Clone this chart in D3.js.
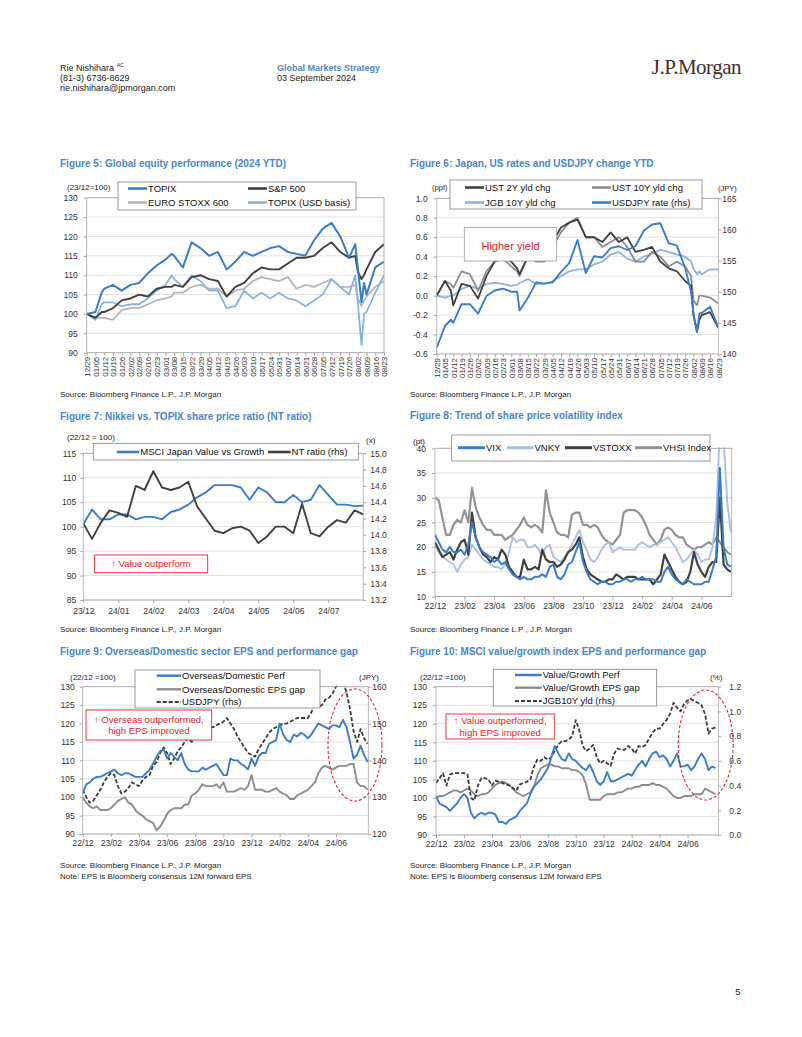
<!DOCTYPE html>
<html><head><meta charset="utf-8">
<script src="https://cdn.jsdelivr.net/npm/d3@7"></script>
<style>body{margin:0;background:#fff} svg{display:block}</style>
</head><body>
<script>
// ---------- DATA ----------
// Figures 5 & 6: 2024 YTD observation dates and weekly axis labels
const ytdDates = ["12/29","01/05","01/10","01/12","01/19","01/26","02/02","02/09","02/16","02/23",
 "03/01","03/06","03/08","03/15","03/22","03/29","04/05","04/12","04/19","04/26",
 "05/03","05/10","05/17","05/24","05/31","06/07","06/14","06/21","06/28","07/05",
 "07/12","07/19","07/26","07/31","08/02","08/05","08/07","08/09","08/16","08/23"];
const ytdLabels = ["12/29","01/05","01/12","01/19","01/26","02/02","02/09","02/16","02/23","03/01","03/08","03/15","03/22","03/29","04/05","04/12","04/19","04/26","05/03","05/10","05/17","05/24","05/31","06/07","06/14","06/21","06/28","07/05","07/12","07/19","07/26","08/02","08/09","08/16","08/23"];

const f5Topix = [100,100.5,105.5,106.5,107.5,106,107.5,108,110.5,112.5,114,115.5,115,112,118.5,117,115,116,111.5,113.5,116,115,116,117,117.5,116,115.5,115,119,122,123.5,120,114.5,118,112,103,108,105,112,113.5];
const f5Spx = [100,99,100.5,100.5,101.5,103.5,104,105,104.5,106.5,107,107,107.5,107,109.5,110,109,108.5,104.5,107,108,110.5,112,111.5,111.5,113,114.5,114.5,115,117,118.5,116,114.5,115,111,109,110,111.5,116,118];
const f5Stoxx = [100,99,99,99,98.5,101,101.5,101.5,102.5,103.5,104,104.5,105.5,105.5,107,107.5,106.5,106.5,104.5,106,106.5,108.5,109.5,109,108.5,109.5,106.5,107.5,107,108,109,107,107,107.5,104,102,103.5,104.5,107,108.5];
const f5TopixUsd = [100,98.5,102.5,103,103,102,102.5,102.5,104,106,107.5,110,109,107,110,108.5,106,106,101.5,102,106,104,105.5,104,105.5,104,103.5,102,103.5,105,109,107,105,110,103,92,100,100.5,105.5,110];

const f6Ust2y = [0,0.15,0.05,-0.1,0.12,0.1,-0.03,0.2,0.35,0.4,0.35,0.28,0.22,0.4,0.38,0.4,0.55,0.7,0.75,0.78,0.6,0.6,0.55,0.65,0.55,0.6,0.45,0.47,0.5,0.35,0.28,0.25,0.15,0.1,-0.2,-0.37,-0.25,-0.2,-0.17,-0.33];
const f6Ust10y = [0,0.15,0.12,0.08,0.25,0.22,0.05,0.25,0.35,0.38,0.3,0.25,0.2,0.4,0.35,0.35,0.5,0.65,0.75,0.8,0.6,0.6,0.5,0.55,0.6,0.5,0.35,0.35,0.45,0.4,0.3,0.35,0.3,0.2,-0.05,-0.1,0,0,-0.02,-0.08];
const f6Jgb10y = [0,-0.02,0,0,0.07,0.1,0.07,0.12,0.13,0.12,0.1,0.11,0.13,0.17,0.12,0.12,0.15,0.2,0.25,0.27,0.27,0.32,0.35,0.42,0.45,0.38,0.35,0.4,0.43,0.47,0.45,0.42,0.4,0.35,0.28,0.22,0.25,0.22,0.27,0.27];
const f6Usdjpy = [141,144.5,145.5,145,148,148,146.5,149.3,150.2,150.5,150,150,147,149,151.5,151.3,151.5,153.2,154.6,158.3,153,155.7,155.5,157,157.3,156.7,157.3,159.8,160.8,161,157.8,157.4,153.8,150,146.5,143.5,146.5,146.6,147.6,144.3];

// Figure 7: weekly observations (months since Dec-2023, quarter-month steps)
const f7Labels = ["23/12","24/01","24/02","24/03","24/04","24/05","24/06","24/07"];
const f7Value = [100.5,103.5,101.5,101.5,102.5,102.5,101.5,102,102,101.5,103,103.5,104.5,106,107,108.5,108.5,108.5,108,105.5,108,107,105,105,106.5,105,105.5,108.5,106.5,104.5,104.5,104.2,104.3];
const f7Nt = [14.14,13.95,14.15,14.3,14.27,14.22,14.6,14.55,14.78,14.58,14.55,14.58,14.65,14.35,14.2,14.05,14.02,14.08,14.1,14.05,13.9,13.98,14.1,14.1,14.02,14.38,14.02,13.98,14.1,14.18,14.15,14.3,14.25];

// Figures 8-10: weekly observations (months since Dec-2022, quarter-month steps)
const longLabels = ["22/12","23/02","23/04","23/06","23/08","23/10","23/12","24/02","24/04","24/06"];
const f8Vix = [22.5,21,19.5,19,20,19,19,19.5,18.5,20.5,25,22,20,19,18.5,18,17,17.5,16.5,17,15.5,14.5,14,13.5,14,13.5,13.5,14,14,14.5,14,16,16.5,14,13.5,14.5,16.5,17,19,21,17,15,13.5,13,12.5,13,13,12.5,12.5,13,13,13.5,13.5,13,13.5,13.5,14,13.5,13.5,13.5,13,13,15,16,14.5,13.5,13,12.5,13.5,13,12.5,12.5,12.5,13,13,15.5,18,36,20,16.5,16];
const f8Vnky = [20.5,19,18,17.5,17,16.5,15,16.5,17.5,18,20.5,19.5,18.5,17.5,17,16.5,16,16,15.5,16.5,19,22,21,21.5,21.5,20,20,20.5,19.5,18.5,20,20.5,18,17.5,17,18,19,20.5,22,23.5,21,19.5,17.5,17,18,19.5,20.5,21,19,19.5,20,19.5,19.5,19.5,19.5,20.5,21,20.5,20,20.5,20.5,21,21.5,22,21,20,18.5,17,17.5,18.5,19.5,18.5,17,17.5,17.5,20,26,44,42,29,23];
const f8Vstoxx = [21,19.5,18,18.5,19,17.5,19.5,21,21.5,18.5,27,22,20,18.5,18,17,18,17.5,19.5,18.5,16,15,14,14,17.5,15.5,15.5,16,15.5,19.5,17.5,17,17,16,16.5,17.5,19,19.5,20.5,22,18,15.5,14.5,14,13.5,13,13,13.5,13.5,14.5,14,13.5,14,14,14,13.5,13.5,13.5,13.5,12.5,13.5,14.5,18.5,17,15.5,14,13,12.5,13,15,19,16.5,15,14,16,17,17,30,16.5,15.5,15];
const f8Vhsi = [30,29.5,26,22.5,22.5,24.5,25.5,25,27.5,25,32,28,26,24.5,23.5,23.5,22.5,22.5,22.5,21.5,22,22.5,23.5,24.5,26,24.5,24,24.5,24,23,31.5,27,25,23,22.5,22.5,22,26.5,27,27,24.5,24.5,24,24.5,24,22.5,21.5,21,20.5,21.5,22.5,27,27.5,27.5,27.5,27,26,24.5,22.5,21.5,20.5,21.5,23.5,24,23.5,22.5,22,22,20.5,20,19.5,20,20,20.5,21,20.5,22,21,20,19,18.5];

const f9Perf = [101,103.5,104,105,105.5,105.5,106,106.5,107,107.5,106.5,106,106.5,106.5,106,105.5,105.5,105.5,106.5,107.5,109,111,112.5,113,110.5,112,111,110,112,109,107.5,107,107,107,108,107.5,108,108.5,109,107.5,106,106,110.5,110,110,109,108.5,107.5,110.5,108.5,111,112,112,114.5,115,115.5,120,117,115.5,115,117,116.5,117.5,117,116,117,118.5,120,119.5,119,118.5,119.5,119.5,119,121,119,115,110.5,111.5,114,111.5,109.5];
const f9Eps = [100,98.5,97.5,97,97.5,96.5,96.5,96.5,97,98,99,99.5,100,98.5,98,96.5,95.5,95,94,93.5,93,91,92,93.5,95.5,96.5,97,97,97,98,98,100.5,101,102,103.5,103,103,103,103.5,102.5,104,101.5,101.5,101.5,102,102.5,102,103,106,102,102,102,101.5,101.5,102,102.5,101.5,101,100.5,99.5,99.5,100.5,101,101.5,102,103,104,106.5,108,108.5,108,107.5,108,108.5,108.5,108.5,109,109,104,103,103,102];
const f9Usdjpy = [132,130,128.5,129,130.5,132,134,135.5,136.5,136,133,131,131.5,132.5,134,133.5,133,134.5,135.5,136,138.5,139.5,142,143.5,142,139,140.5,142.5,143.5,145,146,145,146,147.5,149,149.5,149,149,149.5,150,150.5,151.5,150,148.5,146.5,145,143.5,142,141.5,141,143,144.5,146,147.5,148.5,149,149.5,150,150,150.5,151,151.5,151.5,151.5,151.5,153,155.5,154.5,155,156.5,157,158,160,161,161.5,158.5,154,148,145,148.5,146,144.5];

const f10Perf = [100.5,98.5,98,97.5,96.5,97.5,98.5,100,101,100,96,94.5,95.5,96,95.5,96,96,95.5,93.5,93.5,93,94,94.5,95,96.5,97.5,98.5,101,103,104,105,106.5,108,111,114,112,110.5,110,112,110.5,110,109,108,107.5,109,107,104.5,103.5,104.5,107,104.5,104.5,105,105.5,106,106.5,106,107.5,109,110,108.5,110.5,112,112.5,111,111.5,110.5,108.5,110,112,108.5,108.5,109,107.5,108.5,110.5,112,110.5,107.5,108.5,108];
const f10Eps = [100,100.5,100.5,101,101.5,102,102,101.5,102,102.5,102,101,100.5,101,101,101.5,102.5,103.5,104,104.5,104,103.5,102.5,101.5,101,100.5,101,101.5,103,106,108,108.5,109,109,108.5,108.5,108,108,108,107.5,107.5,107,106,103.5,99.5,99.5,99.5,99.5,100.5,101,101,101,101.5,101.5,102,102.5,102.5,103,103,103.5,103.5,103.5,104,103.5,103.5,103,102.5,101.5,100.5,100,100,100.5,100.5,100.5,101,101,101,102.5,102,101.5,101];
const f10Jgb = [0.42,0.46,0.5,0.4,0.49,0.5,0.5,0.5,0.5,0.49,0.3,0.28,0.4,0.46,0.46,0.45,0.4,0.44,0.43,0.42,0.41,0.4,0.38,0.36,0.41,0.42,0.43,0.45,0.55,0.61,0.6,0.63,0.61,0.63,0.68,0.73,0.76,0.76,0.77,0.8,0.93,0.85,0.72,0.68,0.7,0.73,0.63,0.58,0.6,0.58,0.56,0.66,0.7,0.69,0.69,0.72,0.7,0.66,0.72,0.71,0.73,0.78,0.83,0.86,0.86,0.9,0.93,0.98,1.07,1.03,1,1.06,1.09,1.1,1.08,1.07,1.05,0.98,0.82,0.86,0.87];

// ---------- HELPERS ----------
const SANS = '"Liberation Sans",Arial,sans-serif';
const SERIF = '"Liberation Serif","DejaVu Serif",serif';
const parseMD = s => { const [m,d] = s.split("/").map(Number); return new Date(m===12?2023:2024, m-1, d); };
const weeks = arr => arr.map((_,i)=>i*0.25);
const C = {blue:"#3b7dc4", dark:"#404040", mid:"#8c8c8c", light:"#b5b5b5", lblue:"#88b3de",
  jgb:"#8fb3da", vnky:"#a9c0df", vhsi:"#939393", red:"#e0262b", title:"#4a86c8"};

const svg = d3.select("body").append("svg").attr("width",802).attr("height",1037);
svg.append("rect").attr("width",802).attr("height",1037).attr("fill","#fff");
const defs = svg.append("defs");

function T(x,y,s,o={}){
  const t = svg.append("text").attr("x",x).attr("y",y).attr("font-size",o.fs||8)
    .attr("fill",o.fill||"#222").attr("text-anchor",o.anchor||"start")
    .style("font-family",o.family||SANS).text(s);
  if(o.bold) t.attr("font-weight","bold");
  return t;
}

function styleAxis(a, fs){
  a.select(".domain").remove();
  a.selectAll(".tick line").attr("stroke","#a6a6a6");
  a.selectAll("text").attr("font-size",fs||8).attr("fill","#333").style("font-family",SANS);
}

function chart(cfg){
  const g = svg.append("g");
  const P = cfg.plot;
  const x = cfg.x.range([P.x, P.x+P.w]);
  const yL = d3.scaleLinear().domain(cfg.yL.domain).range([P.y+P.h, P.y]);
  const yR = cfg.yR ? d3.scaleLinear().domain(cfg.yR.domain).range([P.y+P.h, P.y]) : null;
  g.append("g").selectAll("line").data(cfg.yL.ticks).join("line")
    .attr("x1",P.x).attr("x2",P.x+P.w).attr("y1",d=>yL(d)).attr("y2",d=>yL(d))
    .attr("stroke","#d9d9d9").attr("stroke-width",0.8);
  const cid = "clip-"+cfg.id;
  defs.append("clipPath").attr("id",cid).append("rect")
    .attr("x",P.x).attr("y",P.y-1).attr("width",P.w).attr("height",P.h+1);
  const lg = g.append("g").attr("clip-path",`url(#${cid})`);
  cfg.series.forEach(s=>{
    const ys = s.axis==="R" ? yR : yL;
    const line = d3.line().x((d,i)=>x(s.xs[i])).y(d=>ys(d));
    lg.append("path").datum(s.values).attr("d",line).attr("fill","none")
      .attr("stroke",s.color).attr("stroke-width",s.lw||1.8)
      .attr("stroke-dasharray",s.dash||null).attr("stroke-linejoin","round");
  });
  g.append("rect").attr("x",P.x).attr("y",P.y).attr("width",P.w).attr("height",P.h)
    .attr("fill","none").attr("stroke","#a6a6a6").attr("stroke-width",0.8);
  const la = g.append("g").attr("transform",`translate(${P.x},0)`)
    .call(d3.axisLeft(yL).tickValues(cfg.yL.ticks).tickFormat(cfg.yL.fmt).tickSize(3).tickPadding(cfg.yL.pad));
  styleAxis(la, 8.5);
  if(yR){
    const ra = g.append("g").attr("transform",`translate(${P.x+P.w},0)`)
      .call(d3.axisRight(yR).tickValues(cfg.yR.ticks).tickFormat(cfg.yR.fmt).tickSize(3).tickPadding(cfg.yR.pad));
    styleAxis(ra, 8.5);
  }
  const ba = g.append("g").attr("transform",`translate(0,${P.y+P.h})`)
    .call(d3.axisBottom(x).tickValues(cfg.xt.values).tickFormat((d,i)=>cfg.xt.labels[i]).tickSize(3).tickPadding(cfg.xt.pad||4));
  styleAxis(ba, cfg.xt.fs||8.5);
  if(cfg.xt.rotate){
    ba.selectAll("text").attr("transform","rotate(-90)").attr("text-anchor","end")
      .attr("x",-4).attr("y",0).attr("dy","0.35em");
  }
  return {g,x,yL,yR};
}

function legend(box, items, fs){
  svg.append("rect").attr("x",box.x).attr("y",box.y).attr("width",box.w).attr("height",box.h)
    .attr("fill","#fff").attr("stroke","#808080").attr("stroke-width",0.8);
  items.forEach(it=>{
    svg.append("line").attr("x1",it.x).attr("x2",it.x+it.len).attr("y1",it.y).attr("y2",it.y)
      .attr("stroke",it.color).attr("stroke-width",it.lw||2.6).attr("stroke-dasharray",it.dash||null);
    T(it.x+it.len+1, it.y+3.3, it.label, {fs:fs||9.5, fill:"#111"});
  });
}

function redBox(x,y,w,h,lines,fs){
  svg.append("rect").attr("x",x).attr("y",y).attr("width",w).attr("height",h)
    .attr("fill","#fff").attr("stroke",C.red).attr("stroke-width",0.9);
  lines.forEach((s,i)=>T(x+w/2, y+h/2 + (i-(lines.length-1)/2)*11.3 + 3.4, s, {fs:fs||9.5, fill:C.red, anchor:"middle"}));
}

function ellipse(cx,cy,rx,ry){
  svg.append("ellipse").attr("cx",cx).attr("cy",cy).attr("rx",rx).attr("ry",ry)
    .attr("fill","none").attr("stroke",C.red).attr("stroke-width",1.1).attr("stroke-dasharray","3,2");
}

// ---------- HEADER ----------
T(60,71,"Rie Nishihara",{fs:9});
T(117,66.5,"AC",{fs:5});
T(60,81,"(81-3) 6736-8629",{fs:9});
T(60,91,"rie.nishihara@jpmorgan.com",{fs:9});
T(277,71,"Global Markets Strategy",{fs:9,bold:true,fill:"#4f86c6"});
T(277,81,"03 September 2024",{fs:9});
T(741,74,"J.P.Morgan",{fs:21,anchor:"end",fill:"#3e302a",family:SERIF}).attr("letter-spacing","-0.5");

// ---------- FIGURE 5 ----------
T(60,166.5,"Figure 5: Global equity performance (2024 YTD)",{fs:10,bold:true,fill:C.title});
const ytdX = ytdDates.map(parseMD);
chart({id:"f5", plot:{x:86.7,y:197.7,w:297.3,h:155},
  x:d3.scaleTime().domain([parseMD("12/29"),parseMD("08/23")]),
  yL:{domain:[90,130], ticks:[90,95,100,105,110,115,120,125,130], fmt:d=>d, pad:6},
  xt:{values:ytdLabels.map(parseMD), labels:ytdLabels, rotate:true, fs:8},
  series:[
    {xs:ytdX, values:f5Stoxx, color:C.light, lw:1.8},
    {xs:ytdX, values:f5TopixUsd, color:C.lblue, lw:1.8},
    {xs:ytdX, values:f5Spx, color:C.dark, lw:1.9},
    {xs:ytdX, values:f5Topix, color:C.blue, lw:2}
  ]});
T(67,189.5,"(23/12=100)",{fs:8});
legend({x:118,y:182,w:238,h:28},[
  {x:128,y:188.5,len:19,color:C.blue,label:"TOPIX"},
  {x:248,y:188.5,len:19,color:C.dark,label:"S&P 500"},
  {x:128,y:202.5,len:19,color:C.light,label:"EURO STOXX 600"},
  {x:248,y:202.5,len:19,color:C.lblue,label:"TOPIX (USD basis)"}
]);
T(60,397,"Source: Bloomberg Finance L.P., J.P. Morgan",{fs:8});

// ---------- FIGURE 6 ----------
T(410,166.5,"Figure 6: Japan, US rates and USDJPY change YTD",{fs:10,bold:true,fill:C.title});
chart({id:"f6", plot:{x:436.7,y:198.3,w:281.6,h:155.7},
  x:d3.scaleTime().domain([parseMD("12/29"),parseMD("08/23")]),
  yL:{domain:[-0.6,1.0], ticks:[-0.6,-0.4,-0.2,0,0.2,0.4,0.6,0.8,1.0], fmt:d=>d.toFixed(1), pad:6},
  yR:{domain:[140,165], ticks:[140,145,150,155,160,165], fmt:d=>d, pad:1},
  xt:{values:ytdLabels.map(parseMD), labels:ytdLabels, rotate:true, fs:8},
  series:[
    {xs:ytdX, values:f6Jgb10y, color:C.jgb, lw:1.8},
    {xs:ytdX, values:f6Ust10y, color:C.mid, lw:1.8},
    {xs:ytdX, values:f6Ust2y, color:C.dark, lw:1.8},
    {xs:ytdX, values:f6Usdjpy, color:C.blue, lw:1.9, axis:"R"}
  ]});
T(447.5,190,"(ppt)",{fs:7.5,anchor:"end"});
T(718,190.5,"(JPY)",{fs:7.5});
legend({x:450,y:180,w:252,h:29},[
  {x:465,y:187.5,len:19,color:C.dark,label:"UST 2Y yld chg"},
  {x:592,y:187.5,len:19,color:C.mid,label:"UST 10Y yld chg"},
  {x:465,y:202.5,len:19,color:C.jgb,label:"JGB 10Y yld chg"},
  {x:592,y:202.5,len:19,color:C.blue,label:"USDJPY rate (rhs)"}
]);
svg.append("rect").attr("x",464.3).attr("y",227.3).attr("width",92.4).attr("height",33.7)
  .attr("fill","#fff").attr("stroke","#9a9a9a").attr("stroke-width",0.8);
T(510.5,249.5,"Higher yield",{fs:11,fill:C.red,anchor:"middle"});
T(410,397,"Source: Bloomberg Finance L.P., J.P. Morgan",{fs:8});

// ---------- FIGURE 7 ----------
T(60,419.5,"Figure 7: Nikkei vs. TOPIX share price ratio (NT ratio)",{fs:10,bold:true,fill:C.title});
chart({id:"f7", plot:{x:83.3,y:453.3,w:280,h:146.7},
  x:d3.scaleLinear().domain([0,8]),
  yL:{domain:[85,115], ticks:[85,90,95,100,105,110,115], fmt:d=>d, pad:4},
  yR:{domain:[13.2,15.0], ticks:[13.2,13.4,13.6,13.8,14.0,14.2,14.4,14.6,14.8,15.0], fmt:d=>d.toFixed(1), pad:4},
  xt:{values:f7Labels.map((_,i)=>i), labels:f7Labels, pad:5},
  series:[
    {xs:weeks(f7Value), values:f7Value, color:C.blue, lw:1.9},
    {xs:weeks(f7Nt), values:f7Nt, color:C.dark, lw:1.9, axis:"R"}
  ]});
T(67,440,"(22/12 = 100)",{fs:8});
T(366,442.5,"(x)",{fs:8});
legend({x:93.3,y:443.3,w:265,h:16.7},[
  {x:116.7,y:452,len:22.6,color:C.blue,label:"MSCI Japan Value vs Growth"},
  {x:268,y:452,len:22.6,color:C.dark,label:"NT ratio (rhs)"}
]);
redBox(94.3,555,113.4,17.7,["\u2191 Value outperform"]);
T(60,632,"Source: Bloomberg Finance L.P., J.P. Morgan",{fs:8});

// ---------- FIGURE 8 ----------
T(410,418.5,"Figure 8: Trend of share price volatility index",{fs:10,bold:true,fill:C.title});
chart({id:"f8", plot:{x:435,y:448.3,w:296.7,h:148.3},
  x:d3.scaleLinear().domain([0,20.05]),
  yL:{domain:[10,40], ticks:[10,15,20,25,30,35,40], fmt:d=>d, pad:6},
  xt:{values:longLabels.map((_,i)=>i*2), labels:longLabels, pad:3},
  series:[
    {xs:weeks(f8Vhsi), values:f8Vhsi, color:C.vhsi, lw:2.2},
    {xs:weeks(f8Vnky), values:f8Vnky, color:C.vnky, lw:1.9},
    {xs:weeks(f8Vstoxx), values:f8Vstoxx, color:C.dark, lw:2.2},
    {xs:weeks(f8Vix), values:f8Vix, color:C.blue, lw:2}
  ]});
T(413,443.5,"(pt)",{fs:8});
legend({x:451.7,y:435,w:258.3,h:26},[
  {x:458,y:447.7,len:27,color:C.blue,lw:3,label:"VIX"},
  {x:507,y:447.7,len:26.5,color:C.vnky,lw:3,label:"VNKY"},
  {x:565,y:447.7,len:27,color:C.dark,lw:3,label:"VSTOXX"},
  {x:635,y:447.7,len:27,color:C.vhsi,lw:3,label:"VHSI Index"}
]);
T(410,632,"Source: Bloomberg Finance L.P , J.P. Morgan",{fs:8});

// ---------- FIGURE 9 ----------
T(60,655,"Figure 9: Overseas/Domestic sector EPS and performance gap",{fs:10,bold:true,fill:C.title});
chart({id:"f9", plot:{x:82.7,y:686.7,w:285.6,h:147.3},
  x:d3.scaleLinear().domain([0,20.3]),
  yL:{domain:[90,130], ticks:[90,95,100,105,110,115,120,125,130], fmt:d=>d, pad:5},
  yR:{domain:[120,160], ticks:[120,130,140,150,160], fmt:d=>d, pad:1},
  xt:{values:longLabels.map((_,i)=>i*2), labels:longLabels, pad:3},
  series:[
    {xs:weeks(f9Eps), values:f9Eps, color:C.mid, lw:1.9},
    {xs:weeks(f9Usdjpy), values:f9Usdjpy, color:"#3a3a3a", lw:1.8, dash:"4,2", axis:"R"},
    {xs:weeks(f9Perf), values:f9Perf, color:C.blue, lw:1.9}
  ]});
T(70,679.5,"(22/12 =100)",{fs:8});
T(359,679.5,"(JPY)",{fs:8});
legend({x:135,y:670,w:185,h:38},[
  {x:156.7,y:675.7,len:24.3,color:C.blue,lw:2.4,label:"Overseas/Domestic Perf"},
  {x:156.7,y:689.3,len:24.3,color:C.mid,lw:2.4,label:"Overseas/Domestic EPS gap"},
  {x:156.7,y:702,len:24.3,color:"#3a3a3a",lw:2.2,dash:"4,2",label:"USDJPY (rhs)"}
]);
redBox(86,710,125.7,30,["\u2191 Overseas outperformed,","high EPS improved"]);
ellipse(355,745,27,56);
T(60,868,"Source: Bloomberg Finance L.P., J.P. Morgan",{fs:8});
T(60,879,"Note: EPS is Bloomberg consensus 12M forward EPS",{fs:8});

// ---------- FIGURE 10 ----------
T(410,655,"Figure 10: MSCI value/growth index EPS and performance gap",{fs:10,bold:true,fill:C.title});
chart({id:"f10", plot:{x:436,y:686.7,w:282.3,h:148.3},
  x:d3.scaleLinear().domain([0,20.2]),
  yL:{domain:[90,130], ticks:[90,95,100,105,110,115,120,125,130], fmt:d=>d, pad:6},
  yR:{domain:[0,1.2], ticks:[0,0.2,0.4,0.6,0.8,1.0,1.2], fmt:d=>d.toFixed(1), pad:8},
  xt:{values:longLabels.map((_,i)=>i*2), labels:longLabels, pad:3},
  series:[
    {xs:weeks(f10Eps), values:f10Eps, color:C.mid, lw:1.9},
    {xs:weeks(f10Jgb), values:f10Jgb, color:"#3a3a3a", lw:1.8, dash:"4,2", axis:"R"},
    {xs:weeks(f10Perf), values:f10Perf, color:C.blue, lw:1.9}
  ]});
T(420,679.5,"(22/12 =100)",{fs:8});
T(710,679.5,"(%)",{fs:8});
legend({x:493.3,y:669.3,w:163.4,h:36.7},[
  {x:515,y:675,len:26.7,color:C.blue,lw:2.4,label:"Value/Growth Perf"},
  {x:515,y:687.7,len:26.7,color:C.mid,lw:2.4,label:"Value/Growth EPS gap"},
  {x:515,y:701,len:26.7,color:"#3a3a3a",lw:2.2,dash:"4,2",label:"JGB10Y yld (rhs)"}
]);
redBox(446,714,108.3,25,["\u2191 Value outperformed,","high EPS improved"]);
ellipse(705.7,745,27.5,55);
T(410,868,"Source: Bloomberg Finance L.P., J.P. Morgan",{fs:8});
T(410,879,"Note: EPS is Bloomberg consensus 12M forward EPS",{fs:8});

// ---------- PAGE NUMBER ----------
T(738,995,"5",{fs:9.5,anchor:"middle"});
</script>
</body></html>
